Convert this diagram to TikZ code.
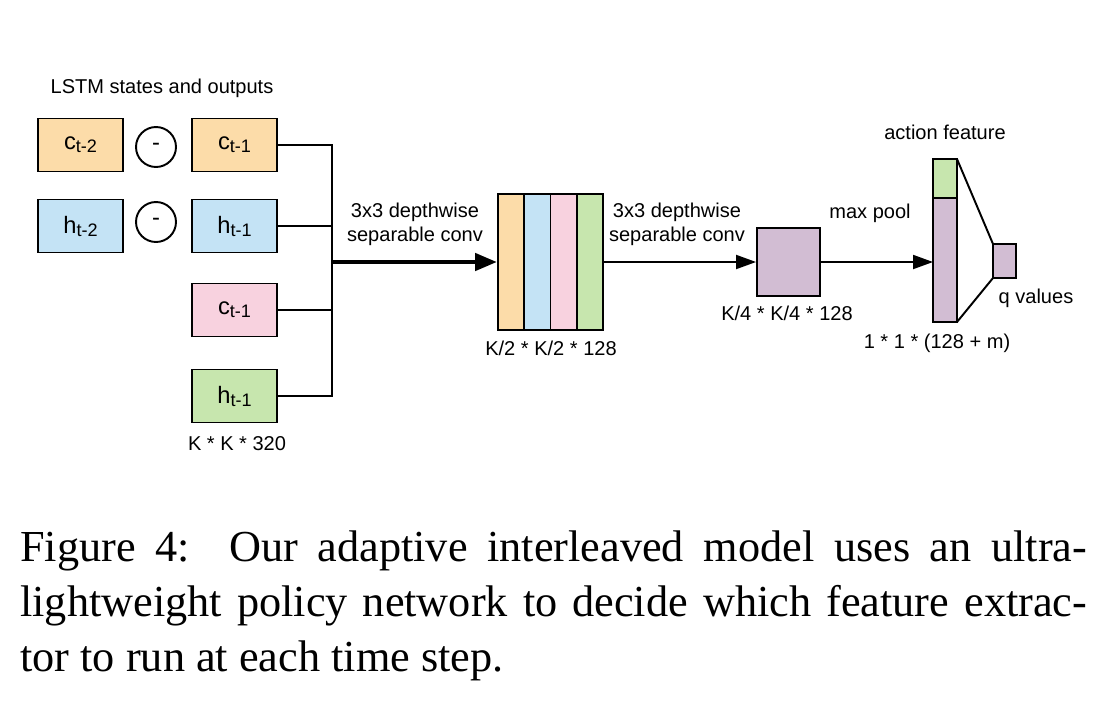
\documentclass[tikz,border=0pt]{standalone}
\usepackage{fontspec}
\setmainfont{Liberation Serif}
\setsansfont{Liberation Sans}
\usetikzlibrary{positioning,arrows.meta}
\definecolor{cellorange}{HTML}{FCDCA9}
\definecolor{cellblue}{HTML}{C4E3F5}
\definecolor{cellpink}{HTML}{F8D2DF}
\definecolor{cellgreen}{HTML}{C7E6AE}
\definecolor{cellpurple}{HTML}{D2BDD3}
\newcommand{\lblfont}{\sffamily\fontsize{11.4}{13.7}\selectfont}
\newcommand{\cellfont}{\sffamily\fontsize{13.5}{16}\selectfont}
\newcommand{\capfont}{\rmfamily\fontsize{25.2}{31.3}\selectfont}
\newcommand{\lsub}[1]{\raisebox{-1.7pt}{\fontsize{10.3}{12}\selectfont #1}}
\tikzset{
  flowarrow/.style={-{Triangle[length=0.4cm, width=0.28cm]}, line width=1.1pt},
  bigarrow/.style={-{Triangle[length=0.44cm, width=0.34cm]}, line width=2.6pt},
  wire/.style={line width=1.1pt},
  cellbox/.style={draw, line width=1.1pt, minimum width=1.7cm, minimum height=1.06cm, inner sep=0pt, font=\cellfont},
  diffop/.style={draw, circle, line width=1.1pt, minimum size=0.8cm, inner sep=0pt, font=\cellfont},
  strip/.style={draw, line width=1.1pt, minimum width=0.525cm, minimum height=2.72cm, inner sep=0pt},
  barbox/.style={draw, line width=1.1pt, minimum width=0.48cm, inner sep=0pt, outer sep=0pt},
  dimlabel/.style={font=\lblfont, inner sep=0pt, align=center}
}
\begin{document}
\begin{tikzpicture}[x=0.02cm, y=-0.02cm]
  \useasboundingbox (0,0) rectangle (1098,714);
  \node[dimlabel] (lstmtitle) at (162,88) {LSTM states and outputs};
  \node[cellbox, fill=cellorange] (ctwo) at (80.5,145) {c\lsub{t-2}};
  \node[diffop] (diffc) at (156,147) {-};
  \node[cellbox, fill=cellorange] (cone) at (234.5,145) {c\lsub{t-1}};
  \node[cellbox, fill=cellblue] (htwo) at (80.5,226) {h\lsub{t-2}};
  \node[diffop] (diffh) at (156,222) {-};
  \node[cellbox, fill=cellblue] (hone) at (234.5,226) {h\lsub{t-1}};
  \node[cellbox, fill=cellpink] (cnew) at (234.5,310) {c\lsub{t-1}};
  \node[cellbox, fill=cellgreen] (hnew) at (234.5,396) {h\lsub{t-1}};
  \node[dimlabel] (indim) at (237,444) {K * K * 320};
  \coordinate (merge) at (332,262);
  \draw[wire] (cone.east) -| (merge);
  \draw[wire] (hone.east) -| (merge);
  \draw[wire] (cnew.east) -| (merge);
  \draw[wire] (hnew.east) -| (merge);
  \node[strip, fill=cellorange] (sa) at (511.1,262) {};
  \node[strip, fill=cellblue] (sb) at (537.4,262) {};
  \node[strip, fill=cellpink] (sc) at (563.6,262) {};
  \node[strip, fill=cellgreen] (sd) at (589.9,262) {};
  \draw[bigarrow] (merge) -- (sa.west);
  \node[dimlabel] (convone) at (415,224) {3x3 depthwise\\separable conv};
  \node[dimlabel] (stackdim) at (551,348) {K/2 * K/2 * 128};
  \node[draw, line width=1.1pt, fill=cellpurple, minimum width=1.26cm, minimum height=1.36cm, inner sep=0pt] (pooled) at (788.5,262) {};
  \draw[flowarrow] (sd.east) -- (pooled.west);
  \node[dimlabel] (convtwo) at (677,224) {3x3 depthwise\\separable conv};
  \node[dimlabel] (pooldim) at (787,313) {K/4 * K/4 * 128};
  \node[barbox, fill=cellpurple, minimum height=2.48cm] (featbar) at (945,260) {};
  \node[barbox, fill=cellgreen, minimum height=0.78cm, anchor=south] (actbar) at (featbar.north) {};
  \draw[flowarrow] (pooled.east) -- (featbar.west |- pooled.east);
  \node[dimlabel] (maxpool) at (870,213) {max pool};
  \node[draw, line width=1.1pt, fill=cellpurple, minimum width=0.46cm, minimum height=0.68cm, inner sep=0pt, outer sep=0pt] (qbox) at (1004.5,261) {};
  \draw[wire] (actbar.north east) -- (qbox.north west);
  \draw[wire] (featbar.south east) -- (qbox.south west);
  \node[dimlabel] (actlabel) at (945,132) {action feature};
  \node[dimlabel] (qlabel) at (1036,298) {q values};
  \node[dimlabel] (featdim) at (937,343) {1 * 1 * (128 + m)};
  \node[anchor=north west, inner sep=0pt, text width=21.34cm, align=justify, font=\capfont] (caption) at (20,530)
    {\hyphenpenalty=10000 Figure 4:\ \ Our adaptive interleaved model uses an ultra-\linebreak lightweight policy network to decide which feature extrac-\linebreak tor to run at each time step.};
\end{tikzpicture}
\end{document}
